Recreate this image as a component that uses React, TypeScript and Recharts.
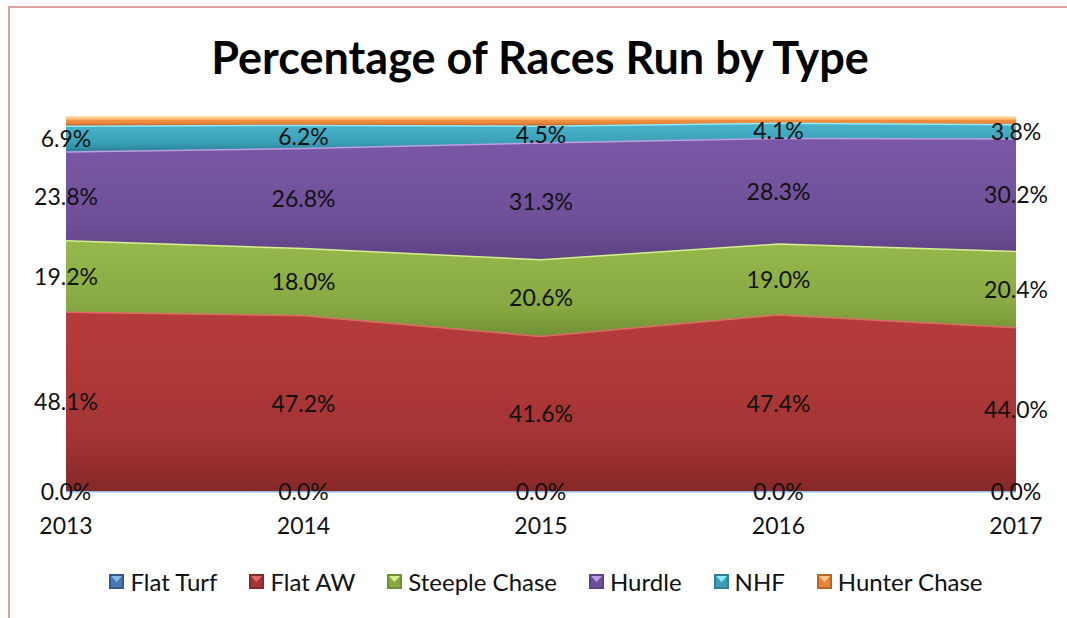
import React from 'react';
import { AreaChart, Area, Line, XAxis, YAxis } from 'recharts';

const years = ['2013', '2014', '2015', '2016', '2017'];
const flatTurf = [0.0, 0.0, 0.0, 0.0, 0.0];
const flatAW = [48.1, 47.2, 41.6, 47.4, 44.0];
const steepleChase = [19.2, 18.0, 20.6, 19.0, 20.4];
const hurdle = [23.8, 26.8, 31.3, 28.3, 30.2];
const nhf = [6.9, 6.2, 4.5, 4.1, 3.8];
const hunterChase = [2.0, 1.8, 2.0, 1.2, 1.6];

const series = [
  { key: 'Flat Turf', values: flatTurf, top: '#6b9bd8', body: '#4a78b4', dark: '#345a8c', light: '#8fb8ea', labelled: true },
  { key: 'Flat AW', values: flatAW, top: '#b63c3c', body: '#a53434', dark: '#862828', light: '#e06a66', labelled: true },
  { key: 'Steeple Chase', values: steepleChase, top: '#97b84c', body: '#88a942', dark: '#728f36', light: '#d6f090', labelled: true },
  { key: 'Hurdle', values: hurdle, top: '#7a58a6', body: '#6f4f98', dark: '#5e4284', light: '#bca0e4', labelled: true },
  { key: 'NHF', values: nhf, top: '#4cb4cc', body: '#3aa0b8', dark: '#2c8298', light: '#90ecfa', labelled: true },
  { key: 'Hunter Chase', values: hunterChase, top: '#f59a48', body: '#e9853a', dark: '#b8652a', light: '#ffc888', labelled: false },
];

const data = years.map((y, i) => {
  const row: Record<string, number | string> = { year: y };
  series.forEach((s) => {
    row[s.key] = s.values[i];
  });
  return row;
});

const FONT = 'Lato, "Open Sans", sans-serif';

const fmt = (v: number) => v.toFixed(1) + '%';

// middle of each band, so labels sit centred in the stacked area
const midOf = (idx: number) => (row: Record<string, number | string>) => {
  let base = 0;
  for (let k = 0; k < idx; k++) base += row[series[k].key] as number;
  return base + (row[series[idx].key] as number) / 2;
};

const makeLabel = (values: number[]) => (props: any) => {
  const { x, y, index } = props;
  if (x == null || y == null) return null;
  return (
    <text
      key={'l' + index}
      x={x}
      y={y}
      textAnchor="middle"
      dominantBaseline="central"
      fontSize={23}
      fontFamily={FONT}
      fill="#111"
    >
      {fmt(values[index])}
    </text>
  );
};

function YearTick(props: any) {
  const { x, y, payload } = props;
  return (
    <text x={x} y={y + 41} textAnchor="middle" fontSize={23} fontFamily={FONT} fill="#111">
      {payload.value}
    </text>
  );
}

function LegendIcon({ s }: { s: (typeof series)[number] }) {
  return (
    <svg width={15} height={15} style={{ marginRight: 6 }}>
      <rect x={0} y={0} width={15} height={15} fill={s.dark} />
      <rect x={2} y={2} width={11} height={11} fill={s.body} />
      <polygon points="2,2 13,2 7.5,8" fill={s.light} />
    </svg>
  );
}

export default function App() {
  return (
    <div
      style={{
        position: 'fixed',
        left: 0,
        top: 0,
        width: 1067,
        height: 618,
        overflow: 'hidden',
        background: '#fff',
        fontFamily: FONT,
      }}
    >
      <div
        style={{
          position: 'absolute',
          left: 8,
          top: 6,
          width: 1120,
          height: 700,
          border: '2px solid #dca0a0',
        }}
      />
      <div
        style={{
          position: 'absolute',
          left: 0,
          top: 30,
          width: 1080,
          textAlign: 'center',
          fontSize: 45,
          fontWeight: 700,
          color: '#000',
        }}
      >
        Percentage of Races Run by Type
      </div>
      <div style={{ position: 'absolute', left: 0, top: 0 }}>
        <AreaChart
          width={1067}
          height={618}
          data={data}
          margin={{ top: 118, right: 51, bottom: 87, left: 66 }}
        >
          <defs>
            {series.map((s, i) => (
              <linearGradient key={s.key} id={'g' + i} x1="0" y1="0" x2="0" y2="1">
                <stop offset="0%" stopColor={s.top} />
                <stop offset="70%" stopColor={s.body} />
                <stop offset="100%" stopColor={s.dark} />
              </linearGradient>
            ))}
          </defs>
          <XAxis
            dataKey="year"
            height={40}
            axisLine={false}
            tickLine={false}
            tickSize={0}
            tick={<YearTick />}
            interval={0}
          />
          <YAxis hide domain={[0, 100]} />
          {series.map((s, i) => (
            <Area
              key={s.key}
              type="linear"
              dataKey={s.key}
              stackId="1"
              fill={'url(#g' + i + ')'}
              fillOpacity={1}
              stroke={s.light}
              strokeWidth={3}
              isAnimationActive={false}
              dot={false}
              activeDot={false}
            />
          ))}
          {series.map((s, i) =>
            s.labelled ? (
              <Line
                key={'mid' + s.key}
                type="linear"
                dataKey={midOf(i)}
                stroke="none"
                dot={false}
                activeDot={false}
                legendType="none"
                isAnimationActive={false}
                label={makeLabel(s.values)}
              />
            ) : null
          )}
        </AreaChart>
      </div>
      <div
        style={{
          position: 'absolute',
          left: 0,
          top: 567,
          width: 1092,
          display: 'flex',
          justifyContent: 'center',
          fontSize: 24,
          color: '#111',
        }}
      >
        {series.map((s) => (
          <div key={s.key} style={{ display: 'flex', alignItems: 'center', margin: '0 16px' }}>
            <LegendIcon s={s} />
            <span>{s.key}</span>
          </div>
        ))}
      </div>
    </div>
  );
}
